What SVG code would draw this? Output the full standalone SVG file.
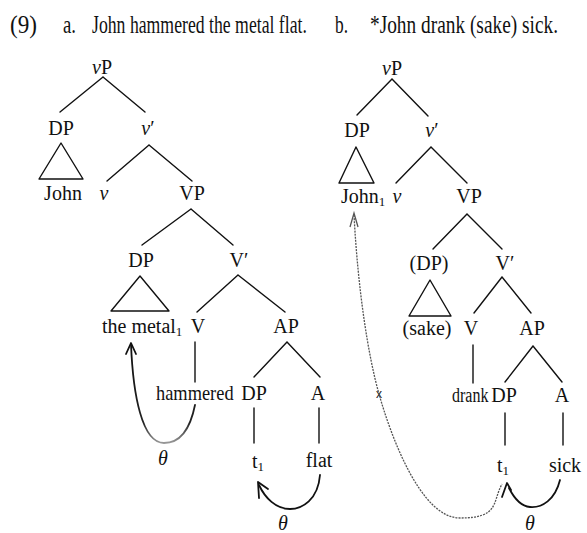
<svg xmlns="http://www.w3.org/2000/svg" width="587" height="533" viewBox="0 0 587 533" font-family="'Liberation Serif', 'DejaVu Serif', serif">
<style>
text{font-family:"Liberation Serif","DejaVu Serif",serif;fill:#111}
.h{font-size:26px}
.l{font-size:20px;text-anchor:middle}
.ls{font-size:20px}
.i{font-style:italic}
.sub{font-size:13px}
.e{stroke:#111;stroke-width:1.4;fill:none;stroke-linecap:round}
.tri{stroke:#111;stroke-width:1.4;fill:none;stroke-linejoin:round}
.arc{stroke:#111;stroke-width:1.8;fill:none;stroke-linecap:round;stroke-linejoin:round}
.dot{stroke:#555;stroke-width:1.3;fill:none;stroke-dasharray:2 1.1}
</style>
<defs>
<linearGradient id="g1" x1="0" y1="0" x2="0" y2="1">
<stop offset="0" stop-color="#111"/>
<stop offset="0.8" stop-color="#222"/>
<stop offset="1" stop-color="#999"/>
</linearGradient>
</defs>

<g id="header">
<g transform="translate(10,33) scale(0.7,1)"><text class="h" x="0" y="0" textLength="38.6" lengthAdjust="spacingAndGlyphs">(9)</text></g>
<g transform="translate(63,33) scale(0.7,1)"><text class="h" x="0" y="0" textLength="18.6" lengthAdjust="spacingAndGlyphs">a.</text></g>
<g transform="translate(92,33) scale(0.7,1)"><text class="h" x="0" y="0" textLength="307" lengthAdjust="spacingAndGlyphs">John hammered the metal flat.</text></g>
<g transform="translate(335,33) scale(0.7,1)"><text class="h" x="0" y="0" textLength="18.6" lengthAdjust="spacingAndGlyphs">b.</text></g>
<g transform="translate(370,33) scale(0.7,1)"><text class="h" x="0" y="0" textLength="268.6" lengthAdjust="spacingAndGlyphs">*John drank (sake) sick.</text></g>
</g>

<g id="treeA-labels">
<g id="a-vP"><text class="l" x="102" y="74"><tspan class="i">v</tspan>P</text></g>
<g id="a-DP1"><text class="l" x="61" y="135">DP</text></g>
<g id="a-vbar"><text class="l" x="148" y="135"><tspan class="i">v</tspan>′</text></g>
<g id="a-John"><text class="l" x="63" y="200">John</text></g>
<g id="a-v"><text class="l i" x="104" y="200">v</text></g>
<g id="a-VP"><text class="l" x="192" y="200">VP</text></g>
<g id="a-DP2"><text class="l" x="141" y="267">DP</text></g>
<g id="a-Vbar"><text class="l" x="239" y="267">V′</text></g>
<g id="a-metal"><text class="ls" x="102" y="333">the metal<tspan class="sub" dy="3">1</tspan></text></g>
<g id="a-V"><text class="l" x="198" y="333">V</text></g>
<g id="a-AP"><text class="l" x="286" y="333">AP</text></g>
<g id="a-hammered"><g transform="translate(156,400) scale(0.92,1)"><text class="ls" x="0" y="0">hammered</text></g></g>
<g id="a-DP3"><text class="l" x="254" y="400">DP</text></g>
<g id="a-A"><text class="l" x="318" y="400">A</text></g>
<g id="a-t1"><text class="ls" x="252" y="468">t<tspan class="sub" dy="3">1</tspan></text></g>
<g id="a-flat"><text class="l" x="319" y="467">flat</text></g>
<g id="a-theta1"><text class="l i" x="163" y="465">θ</text></g>
<g id="a-theta2"><text class="l i" x="283" y="530">θ</text></g>
</g>

<g id="treeB-labels">
<g id="b-vP"><text class="l" x="392" y="75"><tspan class="i">v</tspan>P</text></g>
<g id="b-DP1"><text class="l" x="357" y="137">DP</text></g>
<g id="b-vbar"><text class="l" x="432" y="137"><tspan class="i">v</tspan>′</text></g>
<g id="b-John"><text class="ls" x="341" y="203">John<tspan class="sub" dy="3">1</tspan></text></g>
<g id="b-v"><text class="l i" x="397" y="203">v</text></g>
<g id="b-VP"><text class="l" x="469" y="203">VP</text></g>
<g id="b-DP2"><text class="l" x="429" y="270">(DP)</text></g>
<g id="b-Vbar"><text class="l" x="505" y="270">V′</text></g>
<g id="b-sake"><text class="l" x="427" y="335">(sake)</text></g>
<g id="b-V"><text class="l" x="471" y="335">V</text></g>
<g id="b-AP"><text class="l" x="532" y="335">AP</text></g>
<g id="b-drank"><g transform="translate(452,402) scale(0.8,1)"><text class="ls" x="0" y="0">drank</text></g></g>
<g id="b-DP3"><text class="l" x="504" y="402">DP</text></g>
<g id="b-A"><text class="l" x="562" y="402">A</text></g>
<g id="b-t1"><text class="ls" x="497" y="472">t<tspan class="sub" dy="3">1</tspan></text></g>
<g id="b-sick"><text class="l" x="565" y="472">sick</text></g>
<g id="b-x"><text x="379" y="398" style="font-size:12px;text-anchor:middle;font-family:'Liberation Sans',sans-serif">x</text></g>
<g id="b-theta"><text class="l i" x="530" y="530">θ</text></g>
</g>

<g id="connectors">
<g id="treeA-edges">
<path class="e" d="M103,77L60,112M103,77L145,112"/>
<path class="tri" d="M61,143L39,179L83,179Z"/>
<path class="e" d="M149,145L107,181M149,145L192,181"/>
<path class="e" d="M191,209L142,245M191,209L233,245"/>
<path class="tri" d="M140,276L111,311L169,311Z"/>
<path class="e" d="M238,275L197,312M238,275L285,312"/>
<path class="e" d="M195,342L195,382"/>
<path class="e" d="M287,342L254,377M287,342L320,377"/>
<path class="e" d="M254,408L254,443M319,408L319,443"/>
</g>
<g id="treeB-edges">
<path class="e" d="M392,79L357,115M392,79L428,116"/>
<path class="tri" d="M356,147L339,183L374,183Z"/>
<path class="e" d="M431,147L396,183M431,147L467,183"/>
<path class="e" d="M467,214L433,249M467,214L502,249"/>
<path class="tri" d="M430,280L409,316L451,316Z"/>
<path class="e" d="M502,277L474,313M502,277L531,313"/>
<path class="e" d="M473,345L473,383"/>
<path class="e" d="M533,346L505,382M533,346L562,382"/>
<path class="e" d="M505,413L505,445M563,413L563,445"/>
</g>
<g id="theta-arrows">
<path class="arc" style="stroke:url(#g1)" d="M195,405C190,430 180,443 164,443C142,443 133,395 131,344"/>
<path class="arc" d="M126,354L131,343L136,354"/>
<path class="arc" d="M320,475C318,500 302,509 290,509C276,509 265,498 259,485"/>
<path class="arc" d="M259,498L258,482L268,489"/>
<path class="arc" d="M560,480C555,500 542,508 530,507C519,506 513,496 509,488"/>
<path class="arc" d="M502,497L507,483L511,490"/>
</g>
<g id="movement">
<path class="dot" d="M354,215C358,290 368,355 379,394S420,518 460,518S492,502 502,484"/>
<path class="dot" style="stroke-dasharray:none;stroke-width:1.3" d="M350,227L354,213L358,227"/>
</g>
</g>
</svg>
